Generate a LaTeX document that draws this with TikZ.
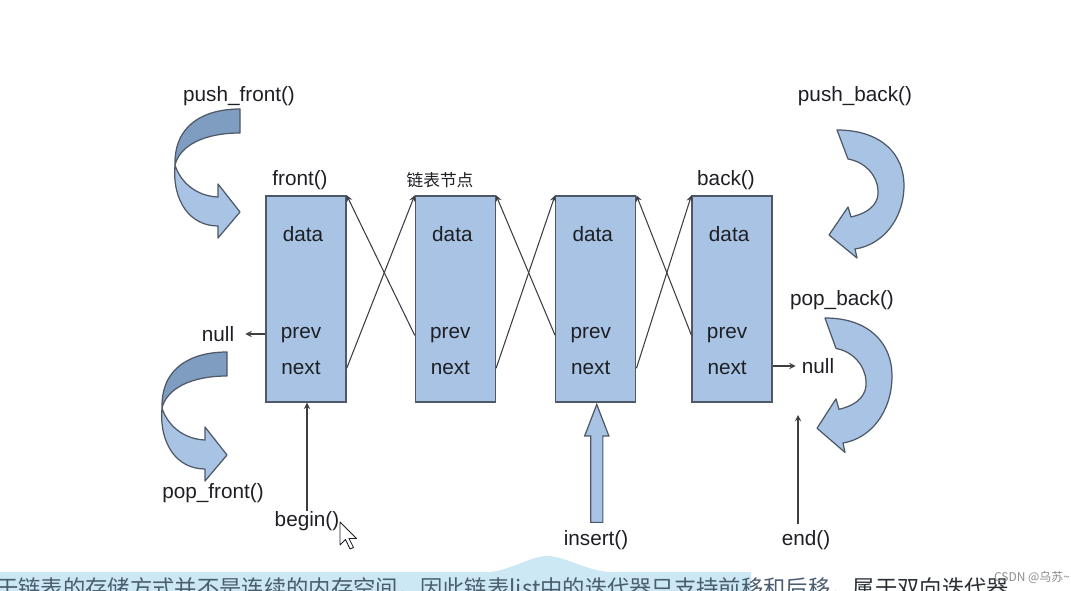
\documentclass[tikz,border=0pt]{standalone}
\usepackage{fontspec}
\setmainfont{Liberation Sans}
\newfontfamily\cjk{Noto Sans CJK SC}
\usepackage{xcolor}
\usepackage{tikz}
\usetikzlibrary{arrows,positioning,calc,shapes.arrows}
\definecolor{ink}{HTML}{1E1F24}
\definecolor{edge}{HTML}{4E5866}
\definecolor{boxL}{HTML}{A8C3E3}
\definecolor{boxD}{HTML}{7F9DC1}
\definecolor{wire}{HTML}{3E3E42}
\definecolor{subL}{HTML}{CBE8F4}
\definecolor{subT}{HTML}{4B5D70}
\definecolor{subD}{HTML}{2A2F36}
\definecolor{wmk}{HTML}{8C8C8C}
\tikzset{
  lnode/.style ={draw=edge, fill=boxL, line width=.8pt, minimum width=1.6cm, minimum height=4.12cm},
  fld/.style   ={font=\fontsize{11.8}{13}\selectfont, text=ink, inner sep=0pt},
  lbl/.style   ={fld},
  cn/.style    ={font=\cjk\fontsize{9.5}{11}\selectfont, text=ink, inner sep=0pt},
  flow/.style  ={->,>=stealth, line width=.6pt, draw=wire},
  ribL/.style  ={fill=boxL, draw=edge, line width=.7pt, line join=round},
  ribD/.style  ={fill=boxD, draw=edge, line width=.7pt, line join=round},
  insarr/.style={single arrow, draw=edge, fill=boxL, line width=.7pt, inner sep=.11cm,
                 minimum height=2.36cm, single arrow head extend=.12cm, single arrow tip angle=42},
  bend front/.pic={
    \path[ribD] (0,0) .. controls (-35,0) and (-66,15) .. (-65,56)
      .. controls (-60,36) and (-35,24) .. (0,24) -- cycle;
    \path[ribL] (-65,56) .. controls (-68,92) and (-50,117) .. (-22,117)
      -- (-22,129) -- (0,103) -- (-22,75) -- (-22,88)
      .. controls (-45,87) and (-60,72) .. (-65,56) -- cycle;
  },
  bend back/.pic={
    \path[ribL] (0,0) .. controls (45,0) and (67,25) .. (67,55)
      .. controls (67,90) and (45,115) .. (18,119)
      -- (20,128) -- (-8,105) -- (11,77) -- (14,87)
      .. controls (35,82) and (42,72) .. (41,60)
      .. controls (40,45) and (28,32) .. (11,29) -- cycle;
  },
}

\begin{document}
\begin{tikzpicture}[x=0.02cm, y=-0.02cm, node distance=12.5mm]
  \useasboundingbox[fill=white] (0,0) rectangle (1071,591);
  % list nodes
  \node[lnode] (b1) at (306,299) {};
  \node[lnode, right=13.6mm of b1] (b2) {};
  \node[lnode, right=11.8mm of b2] (b3) {};
  \node[lnode, right=11mm of b3] (b4) {};
  \node[fld] (d1) at ([xshift=-.06cm,yshift=-.78cm]b1.north) {data};
  \node[fld] (p1) at ([xshift=-.1cm,yshift=-2.8cm]b1.north) {prev};
  \node[fld] (n1) at ([xshift=-.1cm,yshift=-3.46cm]b1.north) {next};
  \node[fld] (d2) at ([xshift=-.06cm,yshift=-.78cm]b2.north) {data};
  \node[fld] (p2) at ([xshift=-.1cm,yshift=-2.8cm]b2.north) {prev};
  \node[fld] (n2) at ([xshift=-.1cm,yshift=-3.46cm]b2.north) {next};
  \node[fld] (d3) at ([xshift=-.06cm,yshift=-.78cm]b3.north) {data};
  \node[fld] (p3) at ([xshift=-.1cm,yshift=-2.8cm]b3.north) {prev};
  \node[fld] (n3) at ([xshift=-.1cm,yshift=-3.46cm]b3.north) {next};
  \node[fld] (d4) at ([xshift=-.06cm,yshift=-.78cm]b4.north) {data};
  \node[fld] (p4) at ([xshift=-.1cm,yshift=-2.8cm]b4.north) {prev};
  \node[fld] (n4) at ([xshift=-.1cm,yshift=-3.46cm]b4.north) {next};
  % links
  \draw[flow] (b1.east |- n1) -- (b2.north west);
  \draw[flow] (b2.west |- p2) -- (b1.north east);
  \draw[flow] (b2.east |- n2) -- (b3.north west);
  \draw[flow] (b3.west |- p3) -- (b2.north east);
  \draw[flow] (b3.east |- n3) -- (b4.north west);
  \draw[flow] (b4.west |- p4) -- (b3.north east);
  % labels
  \node[lbl] (lfront) at (300,180) {front()};
  \node[cn]  (lcap)   at (440,180) {链表节点};
  \node[lbl] (lback)  at (726,180) {back()};
  \node[lbl] (lpf)    at (239,96)  {push\_front()};
  \node[lbl] (lpb)    at (855,96)  {push\_back()};
  \node[lbl] (lqb)    at (842,300) {pop\_back()};
  \node[lbl] (lqf)    at (213,493) {pop\_front()};
  \node[lbl, inner xsep=.22cm] (nullL) at (218,334) {null};
  \node[lbl, inner xsep=.12cm] (nullR) at (818,366) {null};
  \node[lbl] (lbegin) at (307,521) {begin()};
  \node[lbl] (lins)   at (596,540) {insert()};
  \node[lbl] (lend)   at (806,540) {end()};
  \coordinate (endtip) at (798,415);
  \draw[flow] (b1.west |- nullL) -- (nullL.east);
  \draw[flow] (b4.east |- nullR) -- (nullR.west);
  \draw[flow] (lbegin.north) -- (lbegin.north |- b1.south);
  \draw[flow] ([yshift=.12cm]lend.north -| endtip) -- (endtip);
  \node[insarr, anchor=tip, rotate=90] (ia) at ([xshift=.02cm]b3.south) {};
  % push / pop arrows
  \pic at (240,109) {bend front};
  \pic at (227,352) {bend front};
  \pic at (837,130) {bend back};
  \pic[yscale=1.05] at (825,318) {bend back};
  % pointer
  \draw[fill=white, draw=ink, line width=.5pt, line join=round]
    (340,522) -- ++(0,23) -- ++(5.5,-5.5) -- ++(4.5,9.5) -- ++(3.5,-1.5) -- ++(-4.5,-9) -- ++(7.5,0) -- cycle;
  % subtitle strip
  \begin{scope}
    \clip (0,0) rectangle (1071,591);
    \fill[subL] (0,591) -- (0,572) -- (490,572) .. controls (510,570) and (530,557) .. (546,556)
      .. controls (565,556) and (585,570) .. (608,572) -- (751,572) -- (751,591) -- cycle;
    \node[anchor=west, font=\cjk\fontsize{12.7}{14}\selectfont, text=subT, inner sep=0pt] (sub) at (-4,588)
      {于链表的存储方式并不是连续的内存空间，因此链表list中的迭代器只支持前移和后移，\textcolor{subD}{属于双向迭代器}};
  \end{scope}
  \node[font=\cjk\fontsize{6.8}{8}\selectfont, text=wmk, inner sep=0pt] (wm) at (1032,577) {CSDN @乌苏\textasciitilde};
\end{tikzpicture}
\end{document}
